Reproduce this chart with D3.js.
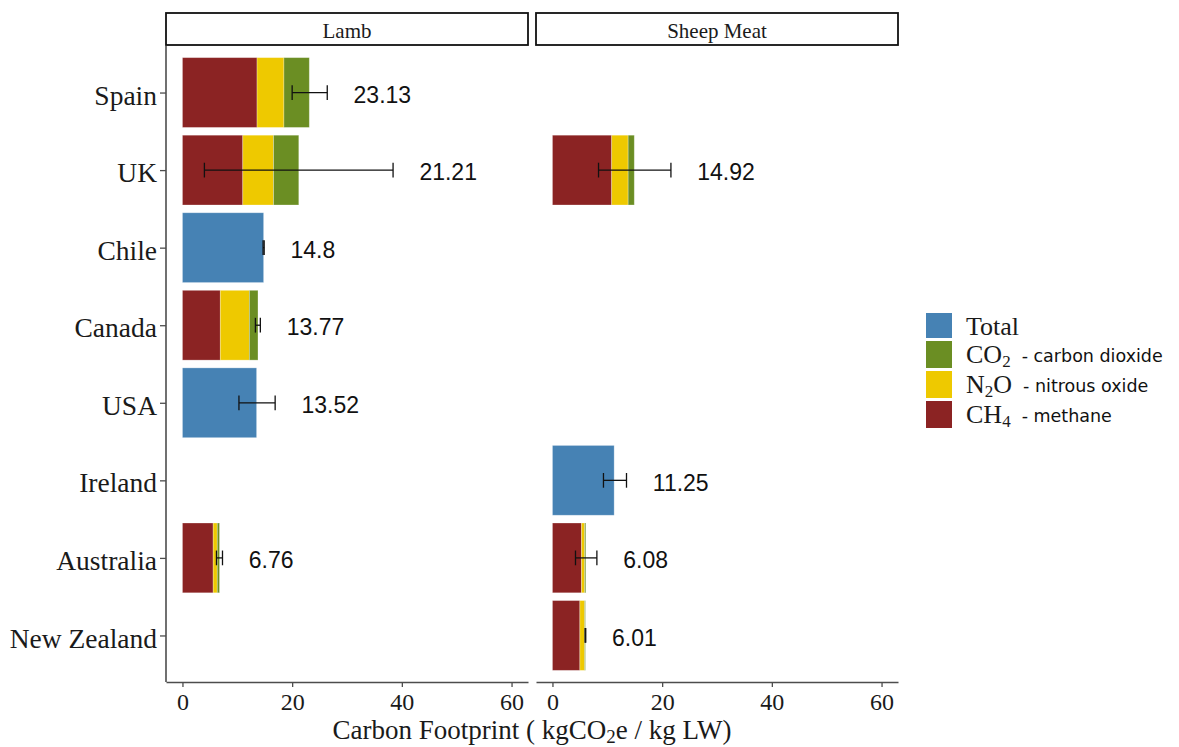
<!DOCTYPE html>
<html>
<head>
<meta charset="utf-8">
<script src="https://cdn.jsdelivr.net/npm/d3@7"></script>
<style>
  html, body { margin: 0; padding: 0; background: #fff; }
  svg { display: block; }
</style>
</head>
<body>
<svg id="chart" width="1179" height="747"></svg>
<script>
// ---------- DATA ----------
const countries = ["Spain", "UK", "Chile", "Canada", "USA", "Ireland", "Australia", "New Zealand"];
const panels = ["Lamb", "Sheep Meat"];
const xTicks = [0, 20, 40, 60];

// Lamb
const lambCH4   = [13.6, 11.0, null, 6.9, null, null, 5.6, null];
const lambN2O   = [4.9, 5.6, null, 5.3, null, null, 0.75, null];
const lambCO2   = [4.63, 4.61, null, 1.57, null, null, 0.41, null];
const lambTotal = [null, null, 14.8, null, 13.52, null, null, null];
const lambLabel = ["23.13", "21.21", "14.8", "13.77", "13.52", null, "6.76", null];
const lambErrLo = [20.0, 4.0, 14.7, 13.3, 10.3, null, 6.2, null];
const lambErrHi = [26.4, 38.4, 14.9, 14.2, 16.9, null, 7.3, null];

// Sheep Meat
const sheepCH4   = [null, 10.8, null, null, null, null, 5.3, 5.0];
const sheepN2O   = [null, 3.0, null, null, null, null, 0.57, 0.87];
const sheepCO2   = [null, 1.12, null, null, null, null, 0.21, 0.14];
const sheepTotal = [null, null, null, null, null, 11.25, null, null];
const sheepLabel = [null, "14.92", null, null, null, "11.25", "6.08", "6.01"];
const sheepErrLo = [null, 8.4, null, null, null, 9.3, 4.2, 5.95];
const sheepErrHi = [null, 21.6, null, null, null, 13.5, 8.1, 6.07];

// Legend
const legendKeys = ["Total", "CO2", "N2O", "CH4"];
const legendMain = [["Total"], ["CO", "2"], ["N", "2", "O"], ["CH", "4"]];
const legendDesc = ["", "- carbon dioxide", "- nitrous oxide", "- methane"];

// ---------- STYLE ----------
const colors = { Total: "#4682B4", CO2: "#6B8E23", N2O: "#EEC900", CH4: "#8B2323" };
const serif = "'Liberation Serif', 'Times New Roman', serif";
const sans = "'Liberation Sans', Arial, sans-serif";
const sans2 = "'DejaVu Sans', 'Open Sans', sans-serif";
const axisColor = "#4d4d4d";

const svg = d3.select("#chart");
svg.append("rect").attr("width", 1179).attr("height", 747).attr("fill", "#fff");

const panelTop = 46, panelBottom = 682;
const panelX = [[166, 528], [536, 898]];

const y = d3.scalePoint().domain(countries).range([panelTop, panelBottom]).padding(0.6);
const step = y.step();
const barH = step * 0.9;
const capH = step * 0.19;

function buildRows(ch4, n2o, co2, total, label, lo, hi) {
  return countries.map((c, i) => ({
    country: c,
    ch4: ch4[i], n2o: n2o[i], co2: co2[i], total: total[i],
    label: label[i], lo: lo[i], hi: hi[i]
  }));
}
const panelData = [
  buildRows(lambCH4, lambN2O, lambCO2, lambTotal, lambLabel, lambErrLo, lambErrHi),
  buildRows(sheepCH4, sheepN2O, sheepCO2, sheepTotal, sheepLabel, sheepErrLo, sheepErrHi)
];

panels.forEach((pName, p) => {
  const [x0, x1] = panelX[p];
  const x = d3.scaleLinear().domain([-3, 63]).range([x0, x1]);
  const g = svg.append("g");
  const rows = panelData[p];

  // Stacked segments
  const segs = [];
  rows.forEach(r => {
    if (r.total != null) {
      segs.push({ country: r.country, a: 0, b: r.total, key: "Total" });
    } else if (r.ch4 != null) {
      segs.push({ country: r.country, a: 0, b: r.ch4, key: "CH4" });
      segs.push({ country: r.country, a: r.ch4, b: r.ch4 + r.n2o, key: "N2O" });
      segs.push({ country: r.country, a: r.ch4 + r.n2o, b: r.ch4 + r.n2o + r.co2, key: "CO2" });
    }
  });
  g.selectAll("rect.seg").data(segs).enter().append("rect")
    .attr("class", "seg")
    .attr("x", d => x(d.a))
    .attr("width", d => x(d.b) - x(d.a))
    .attr("y", d => y(d.country) - barH / 2)
    .attr("height", barH)
    .attr("fill", d => colors[d.key])
    .attr("stroke", "rgba(255,255,255,0.35)")
    .attr("stroke-width", 0.8);

  // Error bars
  const errs = rows.filter(r => r.lo != null);
  const eg = g.selectAll("g.err").data(errs).enter().append("g").attr("class", "err")
    .attr("stroke", "#111").attr("stroke-width", 1.3).attr("fill", "none");
  eg.append("line").attr("x1", d => x(d.lo)).attr("x2", d => x(d.hi))
    .attr("y1", d => y(d.country)).attr("y2", d => y(d.country));
  eg.append("line").attr("x1", d => x(d.lo)).attr("x2", d => x(d.lo))
    .attr("y1", d => y(d.country) - capH / 2).attr("y2", d => y(d.country) + capH / 2);
  eg.append("line").attr("x1", d => x(d.hi)).attr("x2", d => x(d.hi))
    .attr("y1", d => y(d.country) - capH / 2).attr("y2", d => y(d.country) + capH / 2);

  // Value labels
  g.selectAll("text.val").data(rows.filter(r => r.label != null)).enter().append("text")
    .attr("class", "val")
    .attr("x", d => x(d.hi + 4.8))
    .attr("y", d => y(d.country) + 2)
    .attr("dy", "0.36em")
    .attr("font-family", sans)
    .attr("font-size", 23)
    .attr("fill", "#111")
    .text(d => d.label);

  // Strip
  svg.append("rect").attr("x", x0).attr("y", 13).attr("width", x1 - x0).attr("height", 32)
    .attr("fill", "#fff").attr("stroke", "#111").attr("stroke-width", 1.8);
  svg.append("text").attr("x", (x0 + x1) / 2).attr("y", 31).attr("dy", "0.35em")
    .attr("text-anchor", "middle").attr("font-family", serif).attr("font-size", 21)
    .attr("fill", "#1a1a1a").text(pName);

  // X axis
  const xa = svg.append("g").attr("transform", `translate(0,${panelBottom})`)
    .call(d3.axisBottom(x).tickValues(xTicks).tickSize(5).tickSizeOuter(0).tickPadding(6));
  xa.select(".domain").attr("stroke", axisColor).attr("stroke-width", 1.6);
  xa.selectAll(".tick line").attr("stroke", axisColor).attr("stroke-width", 1.3);
  xa.selectAll(".tick text").attr("font-family", serif).attr("font-size", 24).attr("fill", "#1a1a1a");

  // Y axis (only on first panel)
  if (p === 0) {
    const ya = svg.append("g").attr("transform", `translate(${x0},0)`)
      .call(d3.axisLeft(y).tickSize(6).tickSizeOuter(0).tickPadding(3));
    ya.select(".domain").attr("stroke", axisColor).attr("stroke-width", 1.6)
      .attr("d", `M0,${panelTop}V${panelBottom}`);
    ya.selectAll(".tick line").attr("stroke", axisColor).attr("stroke-width", 1.3);
    ya.selectAll(".tick text").attr("font-family", serif).attr("font-size", 27.5)
      .attr("fill", "#1a1a1a").attr("dy", "0.42em");
  }
});

// Axis title
const title = svg.append("text").attr("x", 532).attr("y", 739)
  .attr("text-anchor", "middle").attr("font-family", serif).attr("font-size", 27).attr("fill", "#1a1a1a");
title.append("tspan").text("Carbon Footprint ( kgCO");
title.append("tspan").attr("font-size", 19).attr("dy", 4).text("2");
title.append("tspan").attr("dy", -4).text("e / kg LW)");

// Legend
const legY = [313, 341, 371, 401];
const leg = svg.append("g");
legendKeys.forEach((k, i) => {
  leg.append("rect").attr("x", 926).attr("y", legY[i]).attr("width", 26).attr("height", i === 0 ? 25 : 27)
    .attr("fill", colors[k]);
  const t = leg.append("text").attr("x", 966).attr("y", legY[i] + 22)
    .attr("font-family", serif).attr("font-size", 26).attr("fill", "#1a1a1a");
  const parts = legendMain[i];
  parts.forEach((s, j) => {
    const isSub = j % 2 === 1;
    const ts = t.append("tspan").text(s);
    if (isSub) ts.attr("font-size", 17).attr("dy", 4);
    else if (j > 0) ts.attr("dy", -4);
  });
  if (legendDesc[i]) {
    const endedSub = parts.length % 2 === 0;
    t.append("tspan").attr("dy", endedSub ? -5 : -1).attr("dx", 11)
      .attr("font-family", sans2).attr("font-size", 17.5)
      .attr("fill", "#111").text(legendDesc[i]);
  }
});
</script>
</body>
</html>
